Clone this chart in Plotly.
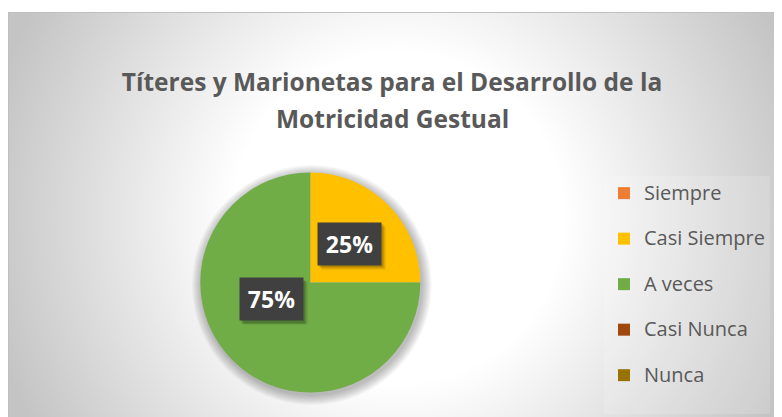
import base64
import struct
import zlib

import numpy as np
import plotly.graph_objects as go

# ---------------- data ----------------
categories = ["Siempre", "Casi Siempre", "A veces", "Casi Nunca", "Nunca"]
values = [0, 25, 75, 0, 0]
colors = ["#ED7D31", "#FFC000", "#70AD47", "#9E480E", "#997300"]
title_lines = ["Títeres y Marionetas para el Desarrollo de la", "Motricidad Gestual"]

# ---------------- geometry / style ----------------
W, H = 782, 417
OFF = 8                         # page body margin (screen px -> figure px)
AREA_L, AREA_T = 0, 12 - OFF    # chart area top-left (figure px)
PIE_CX, PIE_CY, PIE_R = 310.3 - OFF, 282.5 - OFF, 110.0
TEXT_COL = "#595959"
FONT = "Open Sans"


def png_gray(arr):
    h, w = arr.shape
    raw = b"".join(b"\x00" + arr[i].tobytes() for i in range(h))

    def chunk(t, d):
        c = struct.pack(">I", len(d)) + t + d
        return c + struct.pack(">I", zlib.crc32(t + d) & 0xFFFFFFFF)

    png = (b"\x89PNG\r\n\x1a\n"
           + chunk(b"IHDR", struct.pack(">IIBBBBB", w, h, 8, 0, 0, 0, 0))
           + chunk(b"IDAT", zlib.compress(raw, 9))
           + chunk(b"IEND", b""))
    return "data:image/png;base64," + base64.b64encode(png).decode()


# radial gradient background of the chart area
bw, bh = W - AREA_L, H - AREA_T
yy, xx = np.mgrid[0:bh, 0:bw].astype(float)
xx += AREA_L + 0.5
yy += AREA_T + 0.5
d = np.hypot(xx - (398.0 - OFF), yy - (218.0 - OFF))
r0, r1 = 165.0, 420.0
t = np.clip((d - r0) / (r1 - r0), 0, 1)
bg = (255 - 59 * t).round().astype(np.uint8)
bg_src = png_gray(bg)

LEG_FS = 16.35      # sets legend row pitch
LEG_TXT = 20        # visible legend text size

fig = go.Figure()

fig.add_trace(go.Pie(
    labels=[f"<span style='font-size:{LEG_TXT}px'>{c}</span><br> " for c in categories],
    values=values,
    marker=dict(colors=colors, line=dict(width=0)),
    sort=False,
    direction="clockwise",
    rotation=0,
    textinfo="none",
    hoverinfo="none",
    domain=dict(x=[(PIE_CX - PIE_R) / W, (PIE_CX + PIE_R) / W],
                y=[1 - (PIE_CY + PIE_R) / H, 1 - (PIE_CY - PIE_R) / H]),
))

# pie shadow (soft halo)
shapes = []
for k in range(1, 11):
    rr = PIE_R + k
    sx, sy = PIE_CX + 1.5, PIE_CY + 2.5
    shapes.append(dict(type="circle", xref="paper", yref="paper", layer="below",
                       x0=(sx - rr) / W, x1=(sx + rr) / W,
                       y0=1 - (sy + rr) / H, y1=1 - (sy - rr) / H,
                       fillcolor="rgba(0,0,0,0.028)", line=dict(width=0)))
# chart-area border
shapes.append(dict(type="rect", xref="paper", yref="paper", layer="above",
                   x0=(AREA_L + 0.5) / W, x1=1.02, y0=-0.02, y1=1 - (AREA_T + 0.5) / H,
                   line=dict(color="#BFBFBF", width=1), fillcolor="rgba(0,0,0,0)"))

# data labels (computed from the values)
annotations = []
total = float(sum(values))
cum = 0.0
for v in values:
    if v > 0:
        mid = (cum + v / 2) / total
        th = 2 * np.pi * mid
        px = PIE_CX + 0.5 * PIE_R * np.sin(th)
        py = PIE_CY - 0.5 * PIE_R * np.cos(th)
        txt = f"{round(100 * v / total)}%"
        for off, alpha in ((4, 0.12), (2.5, 0.2)):
            annotations.append(dict(
                x=px / W, y=1 - py / H, xref="paper", yref="paper", text=" ",
                showarrow=False, width=63, height=42, borderpad=0,
                bgcolor=f"rgba(0,0,0,{alpha})", xshift=off, yshift=-off,
                font=dict(family=FONT, size=23, color="rgba(0,0,0,0)")))
        annotations.append(dict(
            x=px / W, y=1 - py / H, xref="paper", yref="paper",
            text=f"<b>{txt}</b>", showarrow=False, width=63, height=42, borderpad=0,
            bgcolor="#404040",
            font=dict(family=FONT, size=23, color="white")))
    cum += v

# second title line
annotations.append(dict(x=(392 - OFF) / W, y=1 - (118 - OFF) / H, xref="paper", yref="paper",
                        xanchor="center", yanchor="middle", showarrow=False,
                        text=f"<b>{title_lines[1]}</b>",
                        font=dict(family=FONT, size=24.5, color=TEXT_COL)))

fig.update_layout(
    width=W, height=H,
    margin=dict(l=0, r=0, t=0, b=0),
    paper_bgcolor="white",
    plot_bgcolor="white",
    title=dict(text=f"<b>{title_lines[0]}</b>", x=(392 - OFF) / W, y=1 - (82 - OFF) / H,
               xanchor="center", yanchor="middle",
               font=dict(family=FONT, size=24.5, color=TEXT_COL)),
    images=[dict(source=bg_src, xref="paper", yref="paper",
                 x=AREA_L / W, y=1 - AREA_T / H, sizex=bw / W, sizey=bh / H,
                 xanchor="left", yanchor="top", sizing="stretch", layer="below")],
    shapes=shapes,
    annotations=annotations,
    showlegend=True,
    legend=dict(x=(604 - OFF) / W, xanchor="left", y=1 - 168 / H, yanchor="top",
                valign="top", bgcolor="rgba(255,255,255,0.15)",
                font=dict(family=FONT, size=LEG_FS, color=TEXT_COL),
                traceorder="normal"),
)

fig.write_html("out.html")
